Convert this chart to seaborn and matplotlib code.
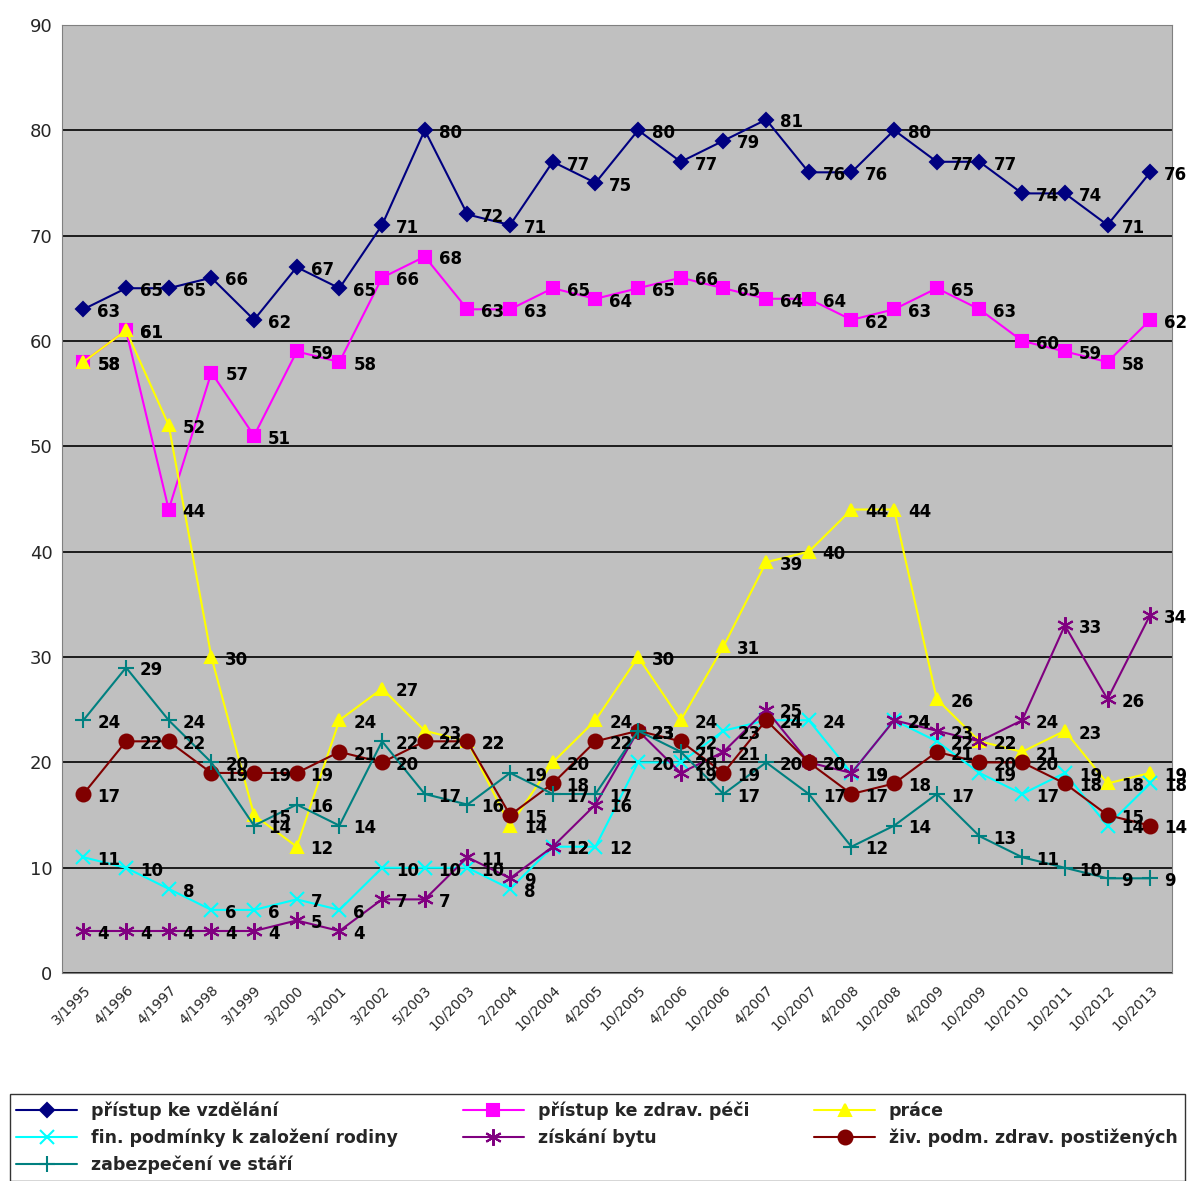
import matplotlib
matplotlib.use("Agg")
import matplotlib.pyplot as plt
import seaborn as sns
import pandas as pd

sns.set_style("white")
plt.rcParams['font.family'] = ['DejaVu Sans']

periods = ["3/1995", "4/1996", "4/1997", "4/1998", "3/1999", "3/2000", "3/2001", "3/2002", "5/2003",
           "10/2003", "2/2004", "10/2004", "4/2005", "10/2005", "4/2006", "10/2006", "4/2007", "10/2007",
           "4/2008", "10/2008", "4/2009", "10/2009", "10/2010", "10/2011", "10/2012", "10/2013"]

vzdelani = [63, 65, 65, 66, 62, 67, 65, 71, 80, 72, 71, 77, 75, 80, 77, 79, 81, 76, 76, 80, 77, 77, 74, 74, 71, 76]
zdrav = [58, 61, 44, 57, 51, 59, 58, 66, 68, 63, 63, 65, 64, 65, 66, 65, 64, 64, 62, 63, 65, 63, 60, 59, 58, 62]
prace = [58, 61, 52, 30, 15, 12, 24, 27, 23, 22, 14, 20, 24, 30, 24, 31, 39, 40, 44, 44, 26, 22, 21, 23, 18, 19]
rodina = [11, 10, 8, 6, 6, 7, 6, 10, 10, 10, 8, 12, 12, 20, 20, 23, 24, 24, 19, 24, 22, 19, 17, 19, 14, 18]
byt = [4, 4, 4, 4, 4, 5, 4, 7, 7, 11, 9, 12, 16, 23, 19, 21, 25, 20, 19, 24, 23, 22, 24, 33, 26, 34]
postizeni = [17, 22, 22, 19, 19, 19, 21, 20, 22, 22, 15, 18, 22, 23, 22, 19, 24, 20, 17, 18, 21, 20, 20, 18, 15, 14]
stari = [24, 29, 24, 20, 14, 16, 14, 22, 17, 16, 19, 17, 17, 23, 21, 17, 20, 17, 12, 14, 17, 13, 11, 10, 9, 9]

series = [
    ("přístup ke vzdělání", vzdelani, "#000080", "D", 7),
    ("přístup ke zdrav. péči", zdrav, "#FF00FF", "s", 9),
    ("práce", prace, "#FFFF00", "^", 9),
    ("fin. podmínky k založení rodiny", rodina, "#00FFFF", "x", 10),
    ("získání bytu", byt, "#800080", (6, 2, 0), 12),
    ("živ. podm. zdrav. postižených", postizeni, "#800000", "o", 10),
    ("zabezpečení ve stáří", stari, "#008080", "+", 12),
]

fig = plt.figure(figsize=(11.93, 11.81), dpi=100)
ax = fig.add_axes([0.052, 0.176, 0.930, 0.803])
ax.set_facecolor("#C0C0C0")

for name, vals, color, marker, ms in series:
    df = pd.DataFrame({"x": range(len(periods)), "y": vals})
    sns.lineplot(data=df, x="x", y="y", ax=ax, color=color, marker=marker, markersize=ms,
                 markeredgecolor=color, markeredgewidth=1.5, linewidth=1.5, label=name)
    for i, v in enumerate(vals):
        ax.annotate(str(v), (i, v), xytext=(10, -2), textcoords="offset points",
                    fontsize=12, fontweight="bold", va="center", color="black")

ax.set_xlim(-0.5, len(periods) - 0.5)
ax.set_ylim(0, 90)
ax.set_yticks(range(0, 91, 10))
ax.set_xticks(range(len(periods)))
ax.set_xticklabels(periods, rotation=45, ha="right", rotation_mode="anchor", fontsize=10)
ax.tick_params(axis="y", labelsize=13)
ax.yaxis.grid(True, color="black", linewidth=1.2)
ax.set_axisbelow(True)
ax.set_xlabel("")
ax.set_ylabel("")
for s in ax.spines.values():
    s.set_color("gray")

handles, labels = ax.get_legend_handles_labels()
ax.get_legend().remove()
order = [0, 3, 6, 1, 4, 2, 5]
leg = fig.legend([handles[i] for i in order], [labels[i] for i in order],
                 loc="lower left", bbox_to_anchor=(0.008, 0.0, 0.985, 0.09),
                 mode="expand", ncol=3, frameon=True, fancybox=False, edgecolor="black",
                 prop={"weight": "bold", "size": 12.5}, handlelength=3.5, borderaxespad=0)
fig.savefig("out.png", dpi=100)
